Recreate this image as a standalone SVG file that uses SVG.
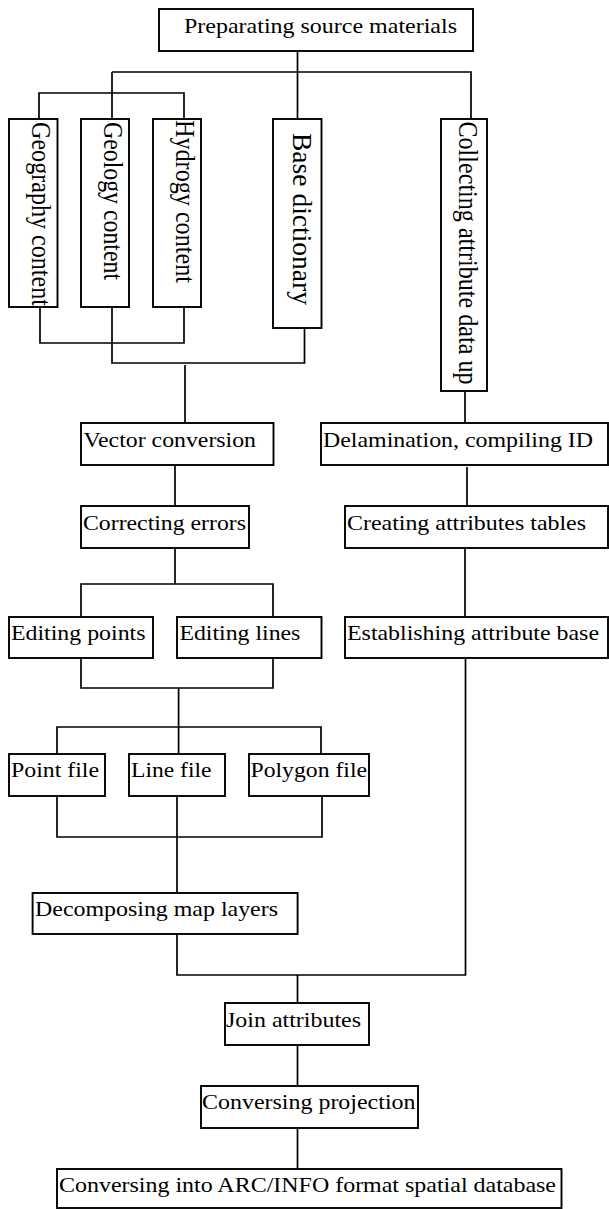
<svg xmlns="http://www.w3.org/2000/svg" width="609" height="1209" viewBox="0 0 609 1209">
<style>
.box{fill:#fff;stroke:#000;stroke-width:1.9}
.t{font-family:"Liberation Serif","Times New Roman",serif;font-size:22px;fill:#000}
.v{font-family:"Liberation Serif","Times New Roman",serif;font-size:27.5px;fill:#000}
.c{fill:none;stroke:#000;stroke-width:1.7}
</style>
<rect width="609" height="1209" fill="#fff"/>
<g id="connectors" class="c">
<path d="M297.5,51V72M112,72H471V119M112,72V119M39,119V93H184V119M297.5,72V119"/>
<path d="M40,307V343H184V307M112,307V363H304.5V328M185,365V423"/>
<path d="M465,391V423M175,465V506M467,467V506"/>
<path d="M175,548V584M81,617V584H273V617M465,548V617"/>
<path d="M81,658V688H273V658M178.6,688V727M57,754V727H321V754M178.6,727V754"/>
<path d="M57,796V837H322V796M177,796V893M177,934V975H465.5V658"/>
<path d="M297.5,975V1003M297.5,1045V1086M297.5,1128V1169"/>
</g>
<g id="n-prep"><rect class="box" x="159" y="9" width="314" height="42"/><text class="t" x="184" y="33" textLength="273" lengthAdjust="spacingAndGlyphs">Preparating source materials</text></g>
<g id="n-geography"><rect class="box" x="9" y="119" width="48.5" height="188"/><text class="v" transform="translate(31.7,122) rotate(90)" textLength="184" lengthAdjust="spacingAndGlyphs">Geography content</text></g>
<g id="n-geology"><rect class="box" x="81" y="119" width="48" height="188"/><text class="v" transform="translate(104.3,122) rotate(90)" textLength="158" lengthAdjust="spacingAndGlyphs">Geology content</text></g>
<g id="n-hydrogy"><rect class="box" x="153" y="119" width="48" height="188"/><text class="v" transform="translate(175.7,120) rotate(90)" textLength="163" lengthAdjust="spacingAndGlyphs">Hydrogy content</text></g>
<g id="n-base"><rect class="box" x="273" y="119" width="48.5" height="209"/><text class="v" transform="translate(293.3,133) rotate(90)" textLength="172" lengthAdjust="spacingAndGlyphs">Base dictionary</text></g>
<g id="n-collect"><rect class="box" x="441" y="119" width="46" height="272"/><text class="v" transform="translate(459,121.5) rotate(90)" textLength="263" lengthAdjust="spacingAndGlyphs">Collecting attribute data up</text></g>
<g id="n-vector"><rect class="box" x="81" y="423" width="192.5" height="42"/><text class="t" x="83.5" y="447" textLength="172.5" lengthAdjust="spacingAndGlyphs">Vector conversion</text></g>
<g id="n-delam"><rect class="box" x="321" y="423" width="287" height="42"/><text class="t" x="323" y="447" textLength="270" lengthAdjust="spacingAndGlyphs">Delamination, compiling ID</text></g>
<g id="n-correct"><rect class="box" x="81" y="506" width="168" height="42"/><text class="t" x="83" y="530" textLength="163" lengthAdjust="spacingAndGlyphs">Correcting errors</text></g>
<g id="n-create"><rect class="box" x="345" y="506" width="263" height="42"/><text class="t" x="347" y="530" textLength="239" lengthAdjust="spacingAndGlyphs">Creating attributes tables</text></g>
<g id="n-editpoints"><rect class="box" x="9" y="617" width="144" height="41"/><text class="t" x="11" y="640" textLength="134.5" lengthAdjust="spacingAndGlyphs">Editing points</text></g>
<g id="n-editlines"><rect class="box" x="177" y="617" width="144.5" height="41"/><text class="t" x="179.4" y="640" textLength="121" lengthAdjust="spacingAndGlyphs">Editing lines</text></g>
<g id="n-establish"><rect class="box" x="345" y="617" width="263" height="41"/><text class="t" x="347" y="640" textLength="252" lengthAdjust="spacingAndGlyphs">Establishing attribute base</text></g>
<g id="n-pointfile"><rect class="box" x="9" y="754" width="96" height="42"/><text class="t" x="11" y="777" textLength="88" lengthAdjust="spacingAndGlyphs">Point file</text></g>
<g id="n-linefile"><rect class="box" x="129" y="754" width="96" height="42"/><text class="t" x="131" y="777" textLength="80.5" lengthAdjust="spacingAndGlyphs">Line file</text></g>
<g id="n-polyfile"><rect class="box" x="249" y="754" width="120" height="42"/><text class="t" x="250.5" y="777" textLength="116.5" lengthAdjust="spacingAndGlyphs">Polygon file</text></g>
<g id="n-decompose"><rect class="box" x="32.6" y="893" width="265" height="41"/><text class="t" x="35" y="916" textLength="243" lengthAdjust="spacingAndGlyphs">Decomposing map layers</text></g>
<g id="n-join"><rect class="box" x="225" y="1003" width="144" height="42"/><text class="t" x="226" y="1027" textLength="135" lengthAdjust="spacingAndGlyphs">Join attributes</text></g>
<g id="n-projection"><rect class="box" x="201" y="1086" width="217" height="42"/><text class="t" x="202" y="1109" textLength="213.5" lengthAdjust="spacingAndGlyphs">Conversing projection</text></g>
<g id="n-arcinfo"><rect class="box" x="57" y="1169" width="504.5" height="39"/><text class="t" x="59" y="1192" textLength="497" lengthAdjust="spacingAndGlyphs">Conversing into ARC/INFO format spatial database</text></g>
</svg>
